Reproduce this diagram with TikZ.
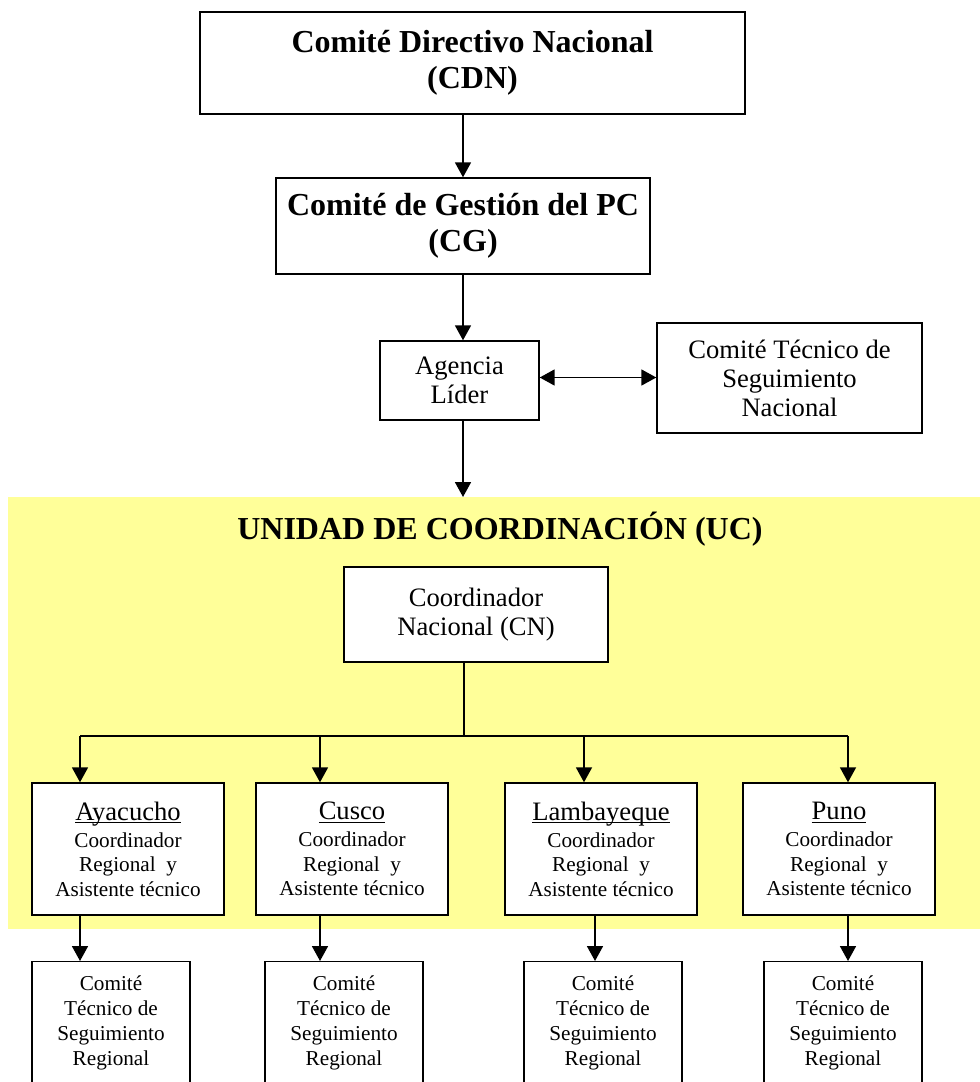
\documentclass[tikz,border=0pt]{standalone}
\usepackage{fontspec}
\setmainfont{Liberation Serif}
\usetikzlibrary{arrows.meta}

\definecolor{ucyellow}{HTML}{FFFF99}
\newcommand{\region}[1]{{\fontsize{13.3}{14.5}\selectfont\underline{\raisebox{0pt}[\height][0pt]{#1}}}}
\tikzset{
  box/.style={draw, line width=0.7pt, fill=white, align=center, inner sep=2pt,
    font=\fontsize{13.3}{14.5}\selectfont},
  titlebox/.style={box, font=\fontsize{16}{18}\selectfont\bfseries},
  regbox/.style={box, minimum width=96pt, minimum height=66pt,
    font=\fontsize{10.6}{12.3}\selectfont},
  combox/.style={box, anchor=north, minimum width=79pt, inner ysep=7pt,
    font=\fontsize{10.6}{12.5}\selectfont},
  arr/.style={line width=0.9pt, -{Triangle[length=7.5pt,width=8pt]}},
  arrboth/.style={line width=0.9pt, {Triangle[length=7.5pt,width=8pt]}-{Triangle[length=7.5pt,width=8pt]}},
}

\begin{document}
\begin{tikzpicture}[x=0.5pt, y=-0.5pt]
    \clip (0,0) rectangle (980,1082);
    \fill[ucyellow] (8,497) rectangle (980,929);

    % comites nacionales
    \node[titlebox, minimum width=272.5pt, minimum height=51pt] (cdn) at (472.5,63) {Comité Directivo Nacional\\(CDN)};
    \node[titlebox, minimum width=187pt, minimum height=48pt] (cg) at (463,226) {Comité de Gestión del PC\\(CG)};
    \node[box, minimum width=79.5pt, minimum height=39.5pt] (al) at (459.5,380.5) {Agencia\\Líder};
    \node[box, minimum width=132.5pt, minimum height=55pt] (ctsn) at (789.5,378) {Comité Técnico de\\Seguimiento\\Nacional};

    % unidad de coordinacion
    \node[font=\fontsize{16}{18}\selectfont\bfseries] (uc) at (500,529) {UNIDAD DE COORDINACIÓN (UC)};
    \coordinate (uctop) at (463,497);
    \node[box, minimum width=132pt, minimum height=47.5pt] (cn) at (476,614.5) {Coordinador\\Nacional (CN)};

    \node[regbox] (ay) at (128,849) {\region{Ayacucho}\\[1.2pt]Coordinador\\Regional\ \ y\\Asistente técnico};
    \node[regbox] (cu) at (352,849) {\region{Cusco}\\[1.2pt]Coordinador\\Regional\ \ y\\Asistente técnico};
    \node[regbox] (la) at (601,849) {\region{Lambayeque}\\[1.2pt]Coordinador\\Regional\ \ y\\Asistente técnico};
    \node[regbox] (pu) at (839,849) {\region{Puno}\\[1.2pt]Coordinador\\Regional\ \ y\\Asistente técnico};

    % comites regionales
    \node[combox] (cay) at (111,961) {Comité\\Técnico de\\Seguimiento\\Regional\rule[-14pt]{0pt}{0pt}};
    \node[combox] (ccu) at (344,961) {Comité\\Técnico de\\Seguimiento\\Regional\rule[-14pt]{0pt}{0pt}};
    \node[combox] (cla) at (603,961) {Comité\\Técnico de\\Seguimiento\\Regional\rule[-14pt]{0pt}{0pt}};
    \node[combox] (cpu) at (843,961) {Comité\\Técnico de\\Seguimiento\\Regional\rule[-14pt]{0pt}{0pt}};

    \coordinate (bus) at (464,736);
    \coordinate (tay) at (80,736);
    \coordinate (tcu) at (320,736);
    \coordinate (tla) at (584,736);
    \coordinate (tpu) at (848,736);

    \draw[arr] (cg.north |- cdn.south) -- (cg.north);
    \draw[arr] (cg.south) -- (cg.south |- al.north);
    \draw[arr] (al.south -| uctop) -- (uctop);
    \draw[arrboth] ([yshift=1.5pt]al.east) -- ([yshift=1.5pt]al.east -| ctsn.west);

    \draw[line width=0.9pt] (cn.south -| bus) -- (bus);
    \draw[line width=0.9pt] (tay) -- (tpu);
    \draw[arr] (tay) -- (tay |- ay.north);
    \draw[arr] (tcu) -- (tcu |- cu.north);
    \draw[arr] (tla) -- (tla |- la.north);
    \draw[arr] (tpu) -- (tpu |- pu.north);

    \draw[arr] (tay |- ay.south) -- (tay |- cay.north);
    \draw[arr] (tcu |- cu.south) -- (tcu |- ccu.north);
    \draw[arr] ([xshift=-3pt]la.south) -- ([xshift=-3pt]la.south |- cla.north);
    \draw[arr] (tpu |- pu.south) -- (tpu |- cpu.north);
\end{tikzpicture}
\end{document}
